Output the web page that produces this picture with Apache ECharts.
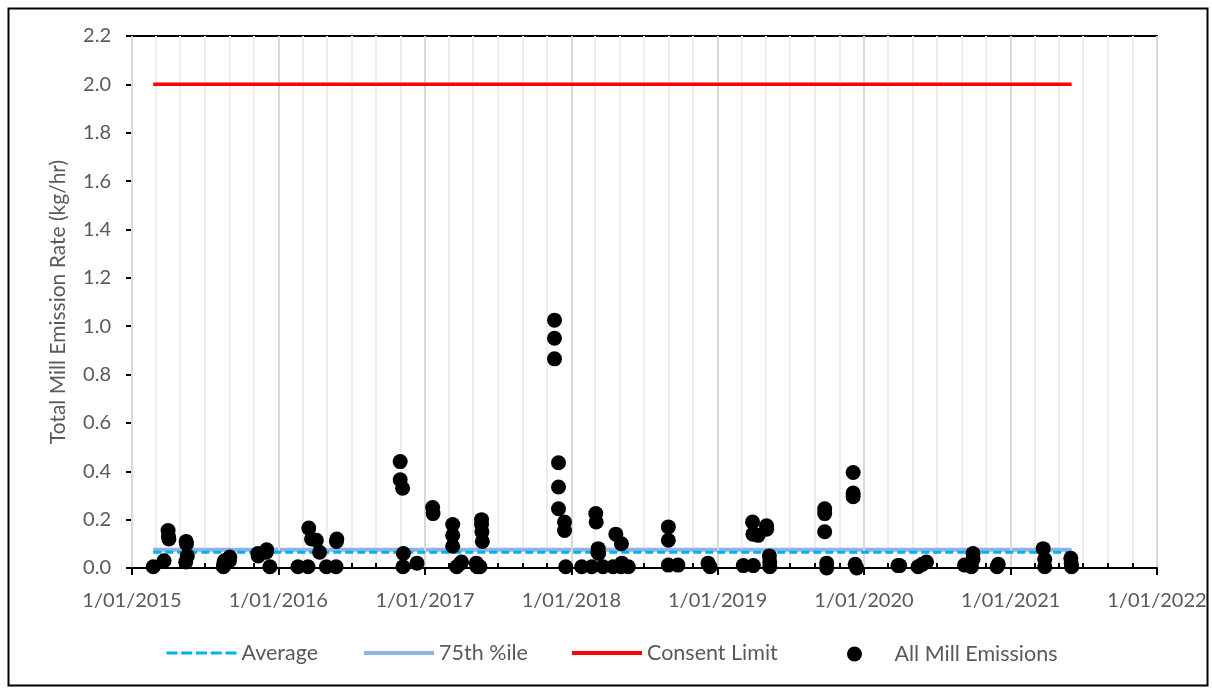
<!DOCTYPE html>
<html>
<head>
<meta charset="utf-8">
<script src="https://cdn.jsdelivr.net/npm/echarts@6/dist/echarts.min.js"></script>
<style>
  html, body { margin: 0; padding: 0; background: #fff; }
  #chart { width: 1212px; height: 689px; }
</style>
</head>
<body>
<div id="chart"></div>
<script>
// Sampling dates and measured total mill emission rates (kg/hr)
const sampleDates = [
  '2015-02-23','2015-03-22','2015-04-01','2015-04-02','2015-04-03','2015-05-15','2015-05-16','2015-05-17','2015-05-19',
  '2015-08-17','2015-08-18','2015-08-20','2015-09-01','2015-09-02','2015-11-11','2015-11-12','2015-12-02','2015-12-03','2015-12-11',
  '2016-02-19','2016-03-15','2016-03-17','2016-03-24','2016-04-05','2016-04-13','2016-04-30','2016-05-24','2016-05-25','2016-05-26',
  '2016-10-31','2016-10-31','2016-11-06','2016-11-07','2016-11-08','2016-12-12',
  '2017-01-20','2017-01-21','2017-03-11','2017-03-11','2017-03-11','2017-03-21','2017-03-31','2017-04-02',
  '2017-05-09','2017-05-11','2017-05-18','2017-05-22','2017-05-22','2017-05-23','2017-05-24',
  '2017-11-20','2017-11-20','2017-11-20','2017-11-30','2017-11-30','2017-11-30','2017-12-15','2017-12-15','2017-12-18',
  '2018-01-27','2018-02-21','2018-03-03','2018-03-04','2018-03-08','2018-03-09','2018-03-10','2018-03-21','2018-04-15','2018-04-22',
  '2018-05-05','2018-05-06','2018-05-07','2018-05-23','2018-08-31','2018-08-31','2018-08-31','2018-09-24','2018-12-08','2018-12-13',
  '2019-03-06','2019-03-29','2019-03-30','2019-03-31','2019-04-12','2019-05-03','2019-05-03','2019-05-10','2019-05-11','2019-05-11',
  '2019-09-25','2019-09-25','2019-09-25','2019-09-30','2019-09-30','2019-12-05','2019-12-05','2019-12-05','2019-12-10','2019-12-14',
  '2020-03-26','2020-03-30','2020-05-15','2020-05-25','2020-06-05','2020-09-08','2020-09-25','2020-09-29','2020-09-29','2020-11-28','2020-12-01',
  '2021-03-23','2021-03-27','2021-03-27','2021-05-31','2021-06-01','2021-06-02'
];
const emissionValues = [
  0.005,0.03,0.155,0.13,0.12,0.025,0.11,0.10,0.05,
  0.005,0.02,0.03,0.03,0.045,0.06,0.05,0.065,0.075,0.005,
  0.005,0.005,0.165,0.12,0.115,0.065,0.005,0.005,0.11,0.12,
  0.44,0.365,0.33,0.005,0.06,0.02,
  0.25,0.225,0.18,0.135,0.09,0.005,0.02,0.025,
  0.02,0.005,0.005,0.2,0.18,0.15,0.11,
  1.025,0.95,0.865,0.435,0.335,0.245,0.19,0.155,0.005,
  0.005,0.005,0.225,0.19,0.065,0.08,0.06,0.005,0.005,0.14,
  0.005,0.1,0.02,0.005,0.17,0.115,0.012,0.012,0.02,0.005,
  0.01,0.19,0.14,0.01,0.135,0.175,0.16,0.05,0.005,0.025,
  0.245,0.225,0.15,0.02,0.0,0.395,0.31,0.295,0.015,0.0,
  0.01,0.01,0.005,0.015,0.025,0.012,0.005,0.06,0.035,0.005,0.015,
  0.08,0.035,0.005,0.04,0.02,0.005
];

// Reference levels
const averageRate = 0.065;
const percentile75Rate = 0.075;
const consentLimit = 2.0;

// Axis ticks
const yearTickDates = ['2015-01-01','2016-01-01','2017-01-01','2018-01-01','2019-01-01','2020-01-01','2021-01-01','2022-01-01'];
const yearTickLabels = ['1/01/2015','1/01/2016','1/01/2017','1/01/2018','1/01/2019','1/01/2020','1/01/2021','1/01/2022'];
const minorMonths = ['03','05','07','09','11'];
const yTickMax = 2.2;
const yTickStep = 0.2;

const toTime = s => +echarts.time.parse(s);
const yearTickValues = yearTickDates.map(toTime);
const minorTickValues = [];
for (let y = 2015; y <= 2021; y++) {
  minorMonths.forEach(m => minorTickValues.push(toTime(y + '-' + m + '-01')));
}

const firstTime = toTime(sampleDates[0]);
const lastTime = toTime(sampleDates[sampleDates.length - 1]);
const levelLine = v => [[firstTime, v], [lastTime, v]];

const FONT = 'Lato';
const GREY = '#595959';
const X_MIN = yearTickValues[0];
const X_MAX = yearTickValues[yearTickValues.length - 1];

const legendBase = {
  padding: 0, itemWidth: 70, itemHeight: 16, itemGap: 0, top: 642,
  textStyle: { color: GREY, fontSize: 21.5, fontFamily: FONT },
  selectedMode: false
};

const chart = echarts.init(document.getElementById('chart'), null, { renderer: 'canvas' });
chart.setOption({
  animation: false,
  backgroundColor: '#ffffff',
  textStyle: { fontFamily: FONT },
  graphic: [{
    type: 'rect', left: 6, top: 6, silent: true, z: 100,
    shape: { width: 1199, height: 677 },
    style: { fill: 'none', stroke: '#000', lineWidth: 2 }
  }],
  grid: {
    left: 132, top: 36, right: 55, bottom: 121,
    show: true, borderColor: '#000', borderWidth: 2, backgroundColor: 'transparent'
  },
  xAxis: [{
    type: 'value',
    min: X_MIN, max: X_MAX,
    axisLine: { lineStyle: { color: '#000', width: 2 } },
    axisTick: { show: true, customValues: yearTickValues, length: 7, lineStyle: { color: '#000', width: 2 } },
    axisLabel: {
      customValues: yearTickValues,
      margin: 23,
      color: GREY, fontSize: 20, fontFamily: FONT,
      formatter: v => yearTickLabels[yearTickValues.indexOf(v)] || ''
    },
    splitLine: { show: true, lineStyle: { color: '#D9D9D9', width: 2 } },
    z: 3
  }, {
    type: 'value',
    position: 'bottom',
    min: X_MIN, max: X_MAX,
    axisLine: { show: false },
    axisTick: { show: true, inside: true, customValues: minorTickValues, length: 5, lineStyle: { color: '#000', width: 2 } },
    axisLabel: { show: false },
    splitLine: { show: true, lineStyle: { color: '#EEEEEE', width: 2 } },
    z: 2
  }],
  yAxis: {
    type: 'value',
    min: 0, max: yTickMax, interval: yTickStep,
    name: 'Total Mill Emission Rate (kg/hr)',
    nameLocation: 'middle',
    nameGap: 63,
    nameTextStyle: { color: GREY, fontSize: 21, fontFamily: FONT },
    axisLine: { show: true, lineStyle: { color: '#000', width: 2 } },
    axisTick: { show: true, length: 6, lineStyle: { color: '#000', width: 2 } },
    axisLabel: { color: GREY, fontSize: 20, fontFamily: FONT, margin: 21, formatter: v => v.toFixed(1) },
    splitLine: { show: false }
  },
  legend: [
    Object.assign({}, legendBase, { data: ['Average'], left: 165, itemStyle: { opacity: 0 }, lineStyle: { type: [11, 3.75], width: 3 } }),
    Object.assign({}, legendBase, { data: ['75th %ile'], left: 362, itemStyle: { opacity: 0 }, lineStyle: { width: 4 } }),
    Object.assign({}, legendBase, { data: ['Consent Limit'], left: 570, itemStyle: { opacity: 0 }, lineStyle: { width: 4 } }),
    Object.assign({}, legendBase, { data: ['All Mill Emissions'], left: 847, itemHeight: 15, top: 643 })
  ],
  series: [{
    name: 'Average', type: 'line', symbol: 'none', silent: true,
    data: levelLine(averageRate),
    lineStyle: { color: '#00B0F0', width: 3, type: [8, 4] },
    itemStyle: { color: '#00B0F0' }, z: 3
  }, {
    name: '75th %ile', type: 'line', symbol: 'none', silent: true,
    data: levelLine(percentile75Rate),
    lineStyle: { color: '#8DB4E2', width: 4 },
    itemStyle: { color: '#8DB4E2' }, z: 2
  }, {
    name: 'Consent Limit', type: 'line', symbol: 'none', silent: true,
    data: levelLine(consentLimit),
    lineStyle: { color: '#FF0000', width: 3.5 },
    itemStyle: { color: '#FF0000' }, z: 4
  }, {
    name: 'All Mill Emissions', type: 'scatter', symbol: 'circle', symbolSize: 15,
    data: sampleDates.map((d, i) => [toTime(d), emissionValues[i]]),
    itemStyle: { color: '#000000', opacity: 1 }, z: 5
  }]
});
</script>
</body>
</html>
